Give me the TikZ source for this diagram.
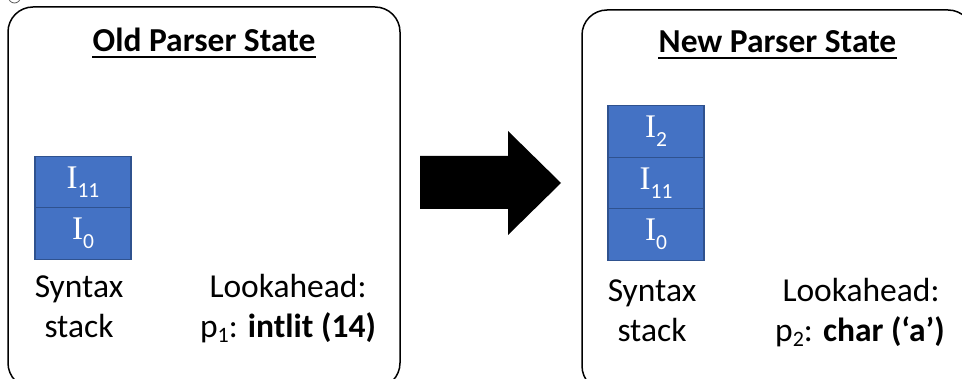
\documentclass[tikz,border=0pt]{standalone}
\usepackage{fontspec}
\newfontfamily\carl{Carlito}
\newfontfamily\serifI{Liberation Serif}
\definecolor{cellblue}{HTML}{4472C4}
\definecolor{celledge}{HTML}{2F528F}
\newcommand{\itemst}[1]{{\serifI\fontsize{33}{33}\selectfont I}\raisebox{-9pt}{\carl\fontsize{21.5}{21.5}\selectfont #1}}
\newcommand{\psub}[1]{p\raisebox{-5pt}{\fontsize{22}{22}\selectfont #1}}
\begin{document}
\begin{tikzpicture}[x=1pt,y=-1pt,
  panel/.style={draw=black, line width=1.5pt, rounded corners=25pt},
  cell/.style={draw=celledge, fill=cellblue, line width=1.2pt,
    minimum width=96pt, minimum height=51.5pt, inner sep=0pt, text=white},
  titletext/.style={font=\carl\bfseries\fontsize{33.5}{33.5}\selectfont, anchor=base, inner sep=0pt},
  lbl/.style={font=\carl\fontsize{33.5}{33.5}\selectfont, anchor=base, inner sep=0pt},
  rule/.style={line width=2pt}]
\useasboundingbox (0,0) rectangle (962,379);
\clip (0,0) rectangle (962,379);

% small handle circle at the corner
\draw[gray!70!black, line width=0.8pt] (14.5,-3) circle (6);

% panels
\draw[panel] (8,7) rectangle (400,388);
\draw[panel] (582,10) rectangle (973,391);

% titles
\node[titletext] (t1) at (204,52) {Old Parser State};
\draw[rule] ([yshift=-5pt]t1.base west) -- ([yshift=-5pt]t1.base east);
\node[titletext] (t2) at (777.5,53) {New Parser State};
\draw[rule] ([yshift=-5pt]t2.base west) -- ([yshift=-5pt]t2.base east);

% old stack
\node[cell] (a11) at (83,182) {\itemst{11}};
\node[cell] (a0)  at (83,233.5) {\itemst{0}};

% new stack
\node[cell] (b2)  at (656,131.5) {\itemst{2}};
\node[cell] (b11) at (656,183) {\itemst{11}};
\node[cell] (b0)  at (656,234.5) {\itemst{0}};

% labels, old state
\node[lbl] (s1a) at (79,298) {Syntax};
\node[lbl] (s1b) at (79,338) {stack};
\node[lbl] (l1a) at (288,298) {Lookahead:};
\node[lbl] (l1b) at (288,338) {\psub{1}: \textbf{intlit (14)}};

% labels, new state
\node[lbl] (s2a) at (652,302) {Syntax};
\node[lbl] (s2b) at (652,342) {stack};
\node[lbl] (l2a) at (861,302) {Lookahead:};
\node[lbl] (l2b) at (860,342) {\psub{2}: \textbf{char (‘a’)}};

% transition arrow
\fill[black] (420,156) -- (508,156) -- (508,131) -- (561,183)
  -- (508,235) -- (508,209) -- (420,209) -- cycle;
\end{tikzpicture}
\end{document}
